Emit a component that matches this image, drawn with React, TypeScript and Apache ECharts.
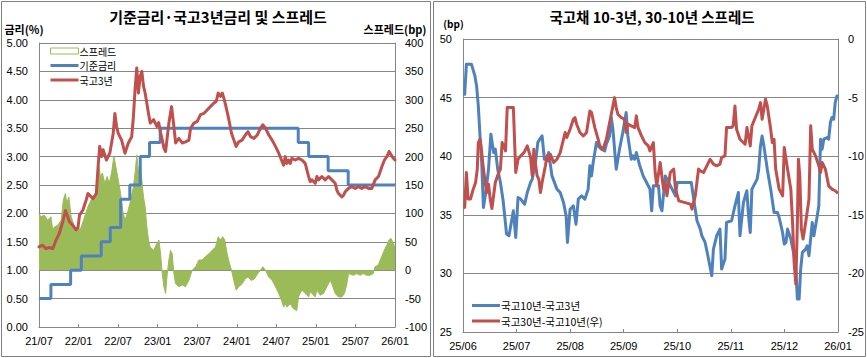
import React, { useEffect, useRef } from 'react';
import * as echarts from 'echarts';

// ---------- Left chart: 기준금리·국고3년금리 및 스프레드 ----------
// x positions are months since 2021-07
const baseRateDates = ['2021-07-01', '2021-08-26', '2021-11-25', '2022-01-14', '2022-04-14', '2022-05-26', '2022-07-13', '2022-08-25', '2022-10-12', '2022-11-24', '2023-01-13', '2024-10-11', '2024-11-28', '2025-02-25', '2025-05-29', '2026-01-01'];
const baseRateValues = [0.5, 0.75, 1.0, 1.25, 1.5, 1.75, 2.25, 2.5, 3.0, 3.25, 3.5, 3.25, 3.0, 2.75, 2.5, 2.5];

const ktb3Points: [number, number][] = [
  [0, 1.41], [0.54, 1.44], [1.05, 1.38], [1.56, 1.40], [2.07, 1.38], [2.33, 1.45], [2.58, 1.53], [3.09, 1.65], [3.6, 1.85], [4.01, 2.05],
  [4.37, 1.94], [4.62, 1.85], [5.13, 1.79], [5.64, 1.71], [5.9, 1.74], [6.15, 1.97], [6.66, 2.06], [7.17, 2.24], [7.43, 2.35], [7.68, 2.32],
  [8.19, 2.26], [8.7, 2.35], [8.96, 2.82], [9.21, 3.18], [9.47, 3.00], [9.72, 3.12], [10.23, 2.94], [10.74, 3.06], [11.26, 3.41], [11.51, 3.76],
  [11.77, 3.53], [12.02, 3.41], [12.53, 3.29], [13.04, 3.06], [13.55, 3.24], [14.06, 3.35], [14.32, 3.70], [14.57, 4.18], [14.83, 4.56], [15.08, 4.12],
  [15.34, 4.41], [15.6, 4.50], [15.85, 4.24], [16.1, 4.12], [16.61, 3.76], [16.87, 3.59], [17.38, 3.65], [17.89, 3.53], [18.15, 3.60], [18.45, 3.42],
  [18.7, 3.29], [18.95, 3.15], [19.2, 3.09], [19.7, 3.59], [20.11, 3.88], [20.46, 3.53], [20.72, 3.24], [21.22, 3.32], [21.72, 3.24], [22.23, 3.26],
  [22.74, 3.29], [22.99, 3.50], [23.5, 3.59], [24.0, 3.62], [24.5, 3.74], [25.0, 3.76], [25.5, 3.82], [26.0, 3.88], [26.5, 3.94], [26.88, 3.97],
  [27.18, 4.12], [27.54, 4.06], [27.8, 4.12], [28.04, 4.03], [28.3, 3.91], [28.8, 3.65], [29.2, 3.41], [29.56, 3.29], [29.9, 3.18], [30.3, 3.26],
  [30.8, 3.29], [31.3, 3.38], [31.7, 3.44], [32.1, 3.35], [32.6, 3.32], [33.1, 3.38], [33.6, 3.50], [33.95, 3.56], [34.35, 3.50], [34.86, 3.38],
  [35.36, 3.29], [35.87, 3.18], [36.37, 3.06], [36.78, 2.94], [37.1, 2.85], [37.35, 3.00], [37.6, 2.88], [37.86, 2.94], [38.1, 2.88], [38.36, 2.97],
  [38.87, 2.94], [39.37, 2.97], [39.88, 2.94], [40.38, 2.88], [40.89, 2.65], [41.14, 2.56], [41.4, 2.59], [41.9, 2.53], [42.15, 2.65], [42.4, 2.59],
  [42.9, 2.65], [43.4, 2.59], [43.92, 2.65], [44.42, 2.59], [44.93, 2.53], [45.18, 2.41], [45.43, 2.35], [45.94, 2.29], [46.2, 2.32], [46.44, 2.38],
  [46.95, 2.44], [47.45, 2.47], [47.96, 2.44], [48.46, 2.47], [48.97, 2.44], [49.47, 2.47], [49.98, 2.44], [50.48, 2.44], [50.99, 2.59], [51.5, 2.65],
  [52.0, 2.82], [52.4, 2.94], [52.76, 3.00], [53.1, 3.09], [53.41, 3.03], [53.76, 2.97], [54.0, 2.94],
];

const spreadPoints: [number, number][] = [
  [0, 100], [0.29, 94], [0.8, 97], [1.31, 88], [1.82, 94], [2.07, 71], [2.33, 76], [2.84, 79], [3.35, 88], [3.7, 124],
  [4.01, 135], [4.21, 118], [4.52, 129], [4.88, 94], [5.39, 76], [5.9, 68], [6.41, 76], [6.92, 94], [7.43, 112], [7.94, 124],
  [8.45, 129], [8.8, 159], [9.11, 182], [9.32, 165], [9.62, 171], [9.98, 153], [10.34, 165], [10.64, 153], [11.0, 171], [11.36, 200],
  [11.66, 182], [12.02, 159], [12.38, 135], [12.68, 106], [13.04, 88], [13.4, 100], [13.8, 118], [14.32, 147], [14.62, 176], [14.83, 203],
  [15.08, 171], [15.34, 194], [15.59, 159], [15.85, 129], [16.1, 112], [16.36, 76], [16.62, 53], [16.87, 41], [17.38, 35], [17.89, 47],
  [18.19, 53], [18.44, 29], [18.69, -6], [18.95, -29], [19.2, -41], [19.46, -6], [19.7, 18], [19.96, 35], [20.2, 29], [20.46, -6],
  [20.72, -24], [21.22, -29], [21.72, -26], [22.22, -29], [22.73, -18], [23.24, 0], [23.75, 6], [24.25, 18], [24.75, 18], [25.26, 24],
  [25.77, 29], [26.27, 35], [26.78, 41], [27.18, 59], [27.53, 53], [27.88, 59], [28.18, 53], [28.54, 29], [28.89, 12], [29.2, 0],
  [29.55, -18], [29.9, -35], [30.3, -29], [30.8, -24], [31.3, -15], [31.7, -12], [32.2, -18], [32.7, -15], [33.2, -6], [33.6, 0],
  [33.95, 6], [34.35, 0], [34.85, -12], [35.36, -18], [35.87, -29], [36.37, -41], [36.78, -53], [37.1, -65], [37.35, -59], [37.6, -65],
  [38.1, -59], [38.6, -68], [39.1, -71], [39.37, -47], [39.6, -41], [39.9, -35], [40.4, -41], [40.9, -47], [41.14, -38], [41.4, -41],
  [41.9, -47], [42.15, -35], [42.66, -44], [43.16, -41], [43.67, -29], [43.92, -24], [44.17, -18], [44.42, -24], [44.93, -41], [45.43, -47],
  [45.94, -47], [46.34, -41], [46.7, -24], [46.95, -6], [47.7, -9], [48.2, -6], [48.7, -9], [49.2, -6], [49.7, -9], [50.2, -9],
  [50.7, -6], [50.96, 6], [51.46, 9], [51.97, 24], [52.37, 35], [52.73, 44], [53.08, 53], [53.4, 56], [53.74, 47], [54.0, 41],
];

// ---------- Right chart: 국고채 10-3년, 30-10년 스프레드 ----------
// x positions are days since 2025-06-01
const spread10y3yPoints: [number, number][] = [
  [0.95, 45.28], [1.9, 47.84], [4.76, 47.84], [6.67, 46.85], [7.62, 46.0], [8.57, 44.29], [9.53, 41.73], [10.48, 39.46], [11.43, 35.63], [12.76, 36.9],
  [14.29, 38.9], [15.62, 41.88], [17.15, 40.31], [18.1, 40.6], [19.43, 38.9], [20.96, 37.76], [22.48, 36.2], [24.39, 33.35], [25.72, 33.2], [27.05, 34.35],
  [28.2, 35.34], [29.53, 33.07], [30.86, 36.48], [32.39, 36.34], [34.67, 35.9], [36.2, 36.9], [38.1, 37.76], [39.06, 38.04], [40.96, 39.46], [42.3, 41.16],
  [43.44, 41.45], [44.77, 41.73], [46.1, 39.74], [47.63, 39.74], [48.58, 40.31], [50.49, 38.32], [53.35, 37.19], [55.25, 36.9], [57.16, 36.05], [58.68, 34.91],
  [59.44, 32.64], [60.96, 35.48], [62.87, 35.77], [64.39, 34.2], [65.73, 36.34], [67.63, 36.62], [69.54, 36.34], [71.44, 37.19], [72.42, 39.18], [73.37, 38.32],
  [74.32, 39.46], [75.28, 40.31], [76.23, 41.16], [77.18, 40.88], [79.09, 40.6], [81.0, 40.45], [81.94, 41.02], [83.85, 41.73], [84.8, 43.3], [85.75, 42.3],
  [86.7, 40.6], [87.66, 38.89], [89.56, 40.6], [91.47, 42.02], [93.37, 43.72], [94.33, 41.73], [96.23, 39.74], [97.18, 40.03], [98.14, 39.74], [99.09, 40.31],
  [101.0, 39.18], [102.9, 38.32], [104.8, 37.76], [106.7, 37.19], [107.66, 35.34], [108.6, 37.47], [111.5, 37.47], [112.4, 35.77], [113.4, 35.34], [115.3, 38.32],
  [117.2, 37.76], [119.1, 37.19], [121.0, 36.62], [121.95, 37.76], [130.1, 37.76], [131.5, 36.34], [133.4, 34.49], [135.3, 33.78], [136.2, 33.21], [138.1, 32.64],
  [139.7, 31.51], [141.96, 29.8], [142.9, 32.07], [144.8, 33.21], [146.7, 33.78], [147.67, 30.37], [149.6, 31.22], [150.5, 34.35], [153.4, 34.49], [155.3, 35.77],
  [157.2, 36.9], [158.1, 33.21], [160.05, 36.05], [161.96, 37.05], [162.9, 34.91], [163.86, 33.49], [164.8, 37.19], [167.7, 38.04], [168.6, 38.89], [169.6, 40.88],
  [170.5, 41.73], [171.5, 40.88], [173.4, 38.89], [175.3, 37.19], [177.2, 35.2], [179.1, 35.2], [180.05, 34.77], [181.96, 33.49], [182.9, 32.5], [183.9, 32.64],
  [184.8, 33.78], [186.7, 32.93], [188.6, 31.51], [189.6, 30.37], [190.5, 27.81], [191.5, 27.81], [192.4, 30.37], [193.4, 31.79], [195.3, 32.07], [196.2, 32.36],
  [197.2, 31.51], [199.1, 34.35], [200.06, 33.21], [202.0, 34.91], [202.9, 35.77], [203.9, 41.45], [204.8, 40.6], [205.8, 41.45], [207.7, 41.59], [208.6, 41.45],
  [209.6, 42.87], [210.5, 43.3], [211.5, 43.16], [212.4, 44.57], [213.4, 45.14],
];

const spread30y10yPoints: [number, number][] = [
  [0.95, -14.38], [1.9, -11.39], [2.86, -13.66], [4.19, -13.66], [5.72, -12.81], [7.05, -12.24], [8.0, -11.1], [8.57, -8.84], [9.53, -8.55], [10.1, -9.12],
  [11.05, -10.54], [12.38, -12.24], [13.34, -13.1], [14.29, -12.39], [15.24, -13.66], [16.19, -14.46], [18.1, -12.24], [20.0, -11.39], [20.96, -11.1], [21.9, -8.84],
  [22.86, -9.12], [23.81, -9.55], [24.77, -5.85], [28.2, -5.85], [29.53, -11.39], [30.86, -10.26], [32.39, -9.97], [34.3, -9.69], [36.2, -9.12], [38.1, -10.11],
  [39.06, -11.68], [40.0, -9.4], [40.96, -10.68], [41.9, -11.68], [42.87, -11.96], [43.82, -13.1], [44.77, -12.24], [46.68, -10.82], [47.63, -9.97], [48.58, -10.4],
  [49.53, -9.83], [51.44, -10.54], [53.34, -10.26], [55.25, -9.69], [56.2, -9.12], [58.1, -7.98], [59.06, -8.41], [60.96, -7.7], [62.87, -6.85], [63.8, -6.7],
  [64.77, -7.27], [66.68, -7.98], [68.6, -8.27], [70.5, -7.98], [72.42, -6.14], [73.37, -6.28], [75.28, -7.56], [77.18, -8.55], [78.13, -9.12], [80.04, -9.4],
  [81.94, -8.55], [83.85, -7.13], [85.75, -5.71], [86.7, -5.0], [87.66, -5.85], [88.61, -6.42], [90.52, -6.7], [92.42, -6.85], [93.37, -7.98], [94.33, -7.27],
  [96.23, -7.41], [98.14, -7.56], [99.09, -6.56], [100.04, -7.56], [101.95, -8.27], [103.85, -8.84], [105.76, -9.12], [106.7, -9.55], [108.6, -8.84], [109.6, -11.39],
  [110.5, -12.53], [112.4, -10.54], [114.3, -12.81], [115.3, -12.24], [116.2, -13.38], [118.1, -11.39], [120.0, -11.1], [121.0, -12.81], [122.9, -13.81], [129.6, -14.09],
  [130.5, -14.52], [132.4, -13.38], [134.3, -11.1], [135.3, -11.25], [137.2, -11.39], [139.1, -10.82], [141.0, -10.26], [142.9, -10.68], [144.8, -10.82], [146.7, -10.68],
  [147.67, -10.11], [149.6, -9.97], [150.5, -7.56], [153.4, -7.56], [154.3, -7.41], [155.3, -5.71], [156.2, -7.7], [158.1, -8.55], [161.0, -8.98], [162.0, -7.56],
  [162.9, -8.27], [163.86, -9.12], [164.8, -7.41], [166.7, -6.7], [168.6, -5.99], [169.6, -5.43], [170.5, -6.85], [172.4, -5.14], [173.4, -5.71], [175.3, -7.7],
  [176.2, -8.84], [177.2, -8.55], [178.1, -11.1], [180.05, -12.81], [182.0, -13.38], [182.9, -9.26], [184.8, -11.1], [186.7, -12.81], [187.7, -15.65], [188.6, -19.06],
  [189.6, -20.91], [190.5, -15.65], [191.1, -10.26], [191.9, -11.68], [192.8, -16.22], [193.8, -17.07], [195.3, -15.65], [197.2, -13.66], [198.2, -7.41], [199.1, -9.4],
  [201.0, -9.97], [202.9, -10.82], [203.9, -11.39], [204.8, -10.54], [206.7, -11.1], [208.6, -12.53], [210.5, -12.81], [212.4, -12.95], [213.4, -13.1],
];

// ---------- helpers ----------
const daysIn = (y: number, m: number) => new Date(Date.UTC(y, m, 0)).getUTCDate();
const monthPos = (dateStr: string, oy: number, om: number) => {
  const [y, m, d] = dateStr.split('-').map(Number);
  return (y - oy) * 12 + (m - om) + (d - 1) / daysIn(y, m);
};
const dayToMonthPos = (off: number) => {
  const whole = Math.floor(off);
  const frac = off - whole;
  const dt = new Date(Date.UTC(2025, 5, 1 + whole));
  const y = dt.getUTCFullYear();
  const m = dt.getUTCMonth() + 1;
  const d = dt.getUTCDate();
  return (y - 2025) * 12 + (m - 6) + (d - 1 + frac) / daysIn(y, m);
};
const ymLabel = (startYY: number, startMonthIdx: number) => (v: number) => {
  const t = startMonthIdx + Math.round(v);
  return `${startYY + Math.floor(t / 12)}/${String((t % 12) + 1).padStart(2, '0')}`;
};

const BLUE = '#4F81BD';
const RED = '#C0504D';
const GREEN = '#9BBB59';
const GRID = '#868686';
const CJK = '"Noto Sans CJK KR", "Noto Sans", sans-serif';
const NUM = '"Liberation Sans", Arial, sans-serif';

const lineIcon = 'path://M0 0H28V3H0Z';

export default function App() {
  const ref = useRef<HTMLDivElement>(null);
  useEffect(() => {
    if (!ref.current) return;
    const chart = echarts.init(ref.current, null, { renderer: 'svg' });

    const baseData = baseRateDates.map((d, i) => [monthPos(d, 2021, 7), baseRateValues[i]]);
    const r10 = spread10y3yPoints.map(([d, v]) => [dayToMonthPos(d), v]);
    const r30 = spread30y10yPoints.map(([d, v]) => [dayToMonthPos(d), v]);

    const labelStyle = { fontFamily: NUM, fontSize: 11, color: '#000' };
    const axisLine = { show: true, onZero: false, lineStyle: { color: GRID, width: 1 } };

    const option: any = {
      animation: false,
      backgroundColor: '#ffffff',
      title: [
        {
          text: '기준금리·국고3년금리 및 스프레드', left: 218, top: 9, textAlign: 'center', padding: 0,
          textStyle: { fontFamily: CJK, fontSize: 15, fontWeight: 'bold', color: '#000' },
        },
        {
          text: '국고채 10-3년, 30-10년 스프레드', left: 652, top: 9, textAlign: 'center', padding: 0,
          textStyle: { fontFamily: CJK, fontSize: 14.5, fontWeight: 'bold', color: '#000' },
        },
      ],
      legend: [
        {
          orient: 'vertical', left: 50, top: 46, padding: 0, itemWidth: 28, itemHeight: 6, itemGap: 4.5,
          textStyle: { fontFamily: CJK, fontSize: 10, lineHeight: 10, color: '#000', padding: [0, 0, 0, -4] },
          data: [
            { name: '스프레드', icon: 'rect', itemStyle: { color: '#ffffff', borderColor: GREEN, borderWidth: 1 } },
            { name: '기준금리', icon: lineIcon },
            { name: '국고3년', icon: lineIcon },
          ],
        },
        {
          orient: 'vertical', left: 472, top: 300, padding: 0, itemWidth: 28, itemHeight: 6, itemGap: 4.5,
          textStyle: { fontFamily: CJK, fontSize: 10.5, lineHeight: 11, color: '#000', padding: [0, 0, 0, -4] },
          data: [
            { name: '국고10년-국고3년', icon: lineIcon },
            { name: '국고30년-국고10년(우)', icon: lineIcon },
          ],
        },
      ],
      grid: [
        { left: 39, right: 472, top: 43, bottom: 31 },
        { left: 463, right: 29, top: 39, bottom: 26 },
      ],
      xAxis: [
        {
          type: 'value', gridIndex: 0, min: 0, max: 54, interval: 6,
          axisLine, axisTick: { show: true, inside: true, length: 3, lineStyle: { color: GRID } },
          splitLine: { show: false },
          axisLabel: { ...labelStyle, margin: 8, formatter: ymLabel(21, 6) },
        },
        {
          type: 'value', gridIndex: 1, min: 0, max: 7, interval: 1,
          axisLine, axisTick: { show: true, inside: true, length: 3, lineStyle: { color: GRID } },
          splitLine: { show: false },
          axisLabel: { ...labelStyle, margin: 8, formatter: ymLabel(25, 5) },
        },
      ],
      yAxis: [
        {
          type: 'value', gridIndex: 0, min: 0, max: 5, interval: 0.5, position: 'left',
          name: '금리(%)', nameLocation: 'end', nameGap: 9,
          nameTextStyle: { fontFamily: CJK, fontSize: 11, fontWeight: 'bold', color: '#000', align: 'center', padding: [0, 30, 0, 0] },
          axisLine, axisTick: { show: false },
          splitLine: { show: true, lineStyle: { color: GRID, width: 1 } },
          axisLabel: { ...labelStyle, margin: 11, formatter: (v: number) => v.toFixed(2) },
        },
        {
          type: 'value', gridIndex: 0, min: -100, max: 400, interval: 50, position: 'right',
          name: '스프레드(bp)', nameLocation: 'end', nameGap: 9,
          nameTextStyle: { fontFamily: CJK, fontSize: 11, fontWeight: 'bold', color: '#000', align: 'center' },
          axisLine, axisTick: { show: false },
          splitLine: { show: false },
          axisLabel: { ...labelStyle, margin: 10 },
        },
        {
          type: 'value', gridIndex: 1, min: 25, max: 50, interval: 5, position: 'left',
          name: '(bp)', nameLocation: 'end', nameGap: 11,
          nameTextStyle: { fontFamily: CJK, fontSize: 10, fontWeight: 'bold', color: '#000', align: 'center', padding: [0, 19, 0, 0] },
          axisLine, axisTick: { show: false },
          splitLine: { show: true, lineStyle: { color: GRID, width: 1 } },
          axisLabel: { ...labelStyle, margin: 11 },
        },
        {
          type: 'value', gridIndex: 1, min: -25, max: 0, interval: 5, position: 'right',
          axisLine, axisTick: { show: false },
          splitLine: { show: false },
          axisLabel: { ...labelStyle, margin: 10 },
        },
      ],
      series: [
        {
          name: '스프레드', type: 'line', xAxisIndex: 0, yAxisIndex: 1, data: spreadPoints,
          symbol: 'none', lineStyle: { color: GREEN, width: 1 }, itemStyle: { color: GREEN },
          areaStyle: { color: GREEN, opacity: 1, origin: 0 },
        },
        {
          name: '기준금리', type: 'line', xAxisIndex: 0, yAxisIndex: 0, data: baseData, step: 'end',
          symbol: 'none', lineStyle: { color: BLUE, width: 3 }, itemStyle: { color: BLUE },
        },
        {
          name: '국고3년', type: 'line', xAxisIndex: 0, yAxisIndex: 0, data: ktb3Points,
          symbol: 'none', lineStyle: { color: RED, width: 3, join: 'round', cap: 'round' }, itemStyle: { color: RED },
        },
        {
          name: '국고10년-국고3년', type: 'line', xAxisIndex: 1, yAxisIndex: 2, data: r10,
          symbol: 'none', lineStyle: { color: BLUE, width: 3, join: 'round', cap: 'round' }, itemStyle: { color: BLUE },
        },
        {
          name: '국고30년-국고10년(우)', type: 'line', xAxisIndex: 1, yAxisIndex: 3, data: r30,
          symbol: 'none', lineStyle: { color: RED, width: 3, join: 'round', cap: 'round' }, itemStyle: { color: RED },
        },
      ],
      graphic: [
        { type: 'rect', silent: true, z: -1, shape: { x: 1.5, y: 1.5, width: 429, height: 355 }, style: { fill: 'none', stroke: '#808080', lineWidth: 1 } },
        { type: 'rect', silent: true, z: -1, shape: { x: 433.5, y: 1.5, width: 432, height: 355 }, style: { fill: 'none', stroke: '#808080', lineWidth: 1 } },
      ],
    };

    chart.setOption(option);
    return () => chart.dispose();
  }, []);

  return (
    <div
      ref={ref}
      style={{ position: 'fixed', left: 0, top: 0, width: 867, height: 358, background: '#fff' }}
    />
  );
}
